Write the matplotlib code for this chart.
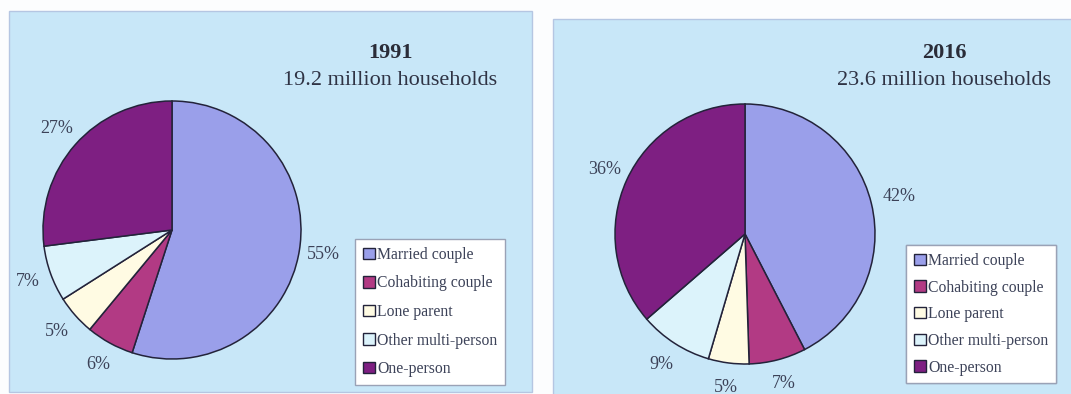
import matplotlib.pyplot as plt
import numpy as np
from matplotlib.patches import Patch, Rectangle

categories = ["Married couple", "Cohabiting couple", "Lone parent",
              "Other multi-person", "One-person"]
share_1991 = [55, 6, 5, 7, 27]
share_2016 = [42, 7, 5, 9, 36]
years = ["1991", "2016"]
totals = ["19.2 million households", "23.6 million households"]

colors = ["#9a9fea", "#b23a84", "#fffbe3", "#dcf3fb", "#7e1f82"]
panel_bg = "#c8e7f8"
text_col = "#3c4258"

W, H = 1071, 394
fig = plt.figure(figsize=(W / 100, H / 100), dpi=100)
fig.patch.set_facecolor("#fcfdfe")
ax = fig.add_axes([0, 0, 1, 1])

plt.rcParams["font.family"] = ["Liberation Serif", "DejaVu Serif"]


def img_y(y):
    # pixel rows counted from the top
    return H - y


# panel backgrounds: (left, top, right, bottom) in pixels
panels = [(9, 11, 532, 392), (553, 19, 1075, 398)]
for l, t, r, b in panels:
    ax.add_patch(Rectangle((l, img_y(b)), r - l, b - t, facecolor=panel_bg,
                           edgecolor="#b5c6e2", linewidth=1.0, zorder=0))

pie_setup = [
    dict(values=share_1991, center=(172, 230), radius=129, title_x=390,
         legend_at=(355, 239), spacing=0.8, label_angles={}),
    dict(values=share_2016, center=(745, 234), radius=130, title_x=944,
         legend_at=(906, 245), spacing=0.68, label_angles={0: 13.5}),
]

for i, cfg in enumerate(pie_setup):
    cx, cy = cfg["center"]
    wedges, texts = ax.pie(
        cfg["values"], colors=colors, startangle=90, counterclock=False,
        center=(cx, img_y(cy)), radius=cfg["radius"],
        labels=[f"{v}%" for v in cfg["values"]], labeldistance=1.19,
        wedgeprops=dict(edgecolor="#23233a", linewidth=1.1),
        textprops=dict(fontsize=13, color=text_col),
    )
    for j, t in enumerate(texts):
        t.set_ha("center")
        t.set_va("center")
        if j in cfg["label_angles"]:
            a = np.deg2rad(cfg["label_angles"][j])
            d = 1.22 * cfg["radius"]
            t.set_position((cx + d * np.cos(a), img_y(cy) + d * np.sin(a)))

    ax.text(cfg["title_x"], img_y(53), years[i], ha="center", va="center",
            fontsize=16, fontweight="bold", color="#2a2c38")
    ax.text(cfg["title_x"], img_y(80), totals[i], ha="center", va="center",
            fontsize=16, color="#2f3344")

    handles = [Patch(facecolor=c, edgecolor="#23233a", linewidth=1.0)
               for c in colors]
    lx, ly = cfg["legend_at"]
    leg = ax.legend(handles, categories, loc="upper left",
                    bbox_to_anchor=(lx, img_y(ly)),
                    bbox_transform=ax.transData,
                    fontsize=11.3, frameon=True, fancybox=False, framealpha=1,
                    handlelength=0.75, handleheight=0.75, handletextpad=0.15,
                    labelspacing=cfg["spacing"], borderpad=0.5,
                    borderaxespad=0, labelcolor=text_col)
    leg.get_frame().set_facecolor("white")
    leg.get_frame().set_edgecolor("#9aa2b6")
    leg.get_frame().set_linewidth(1.0)
    ax.add_artist(leg)

ax.set_xlim(0, W)
ax.set_ylim(0, H)
ax.set_aspect("auto")
ax.axis("off")

fig.savefig("out.png", dpi=100, facecolor=fig.get_facecolor())
